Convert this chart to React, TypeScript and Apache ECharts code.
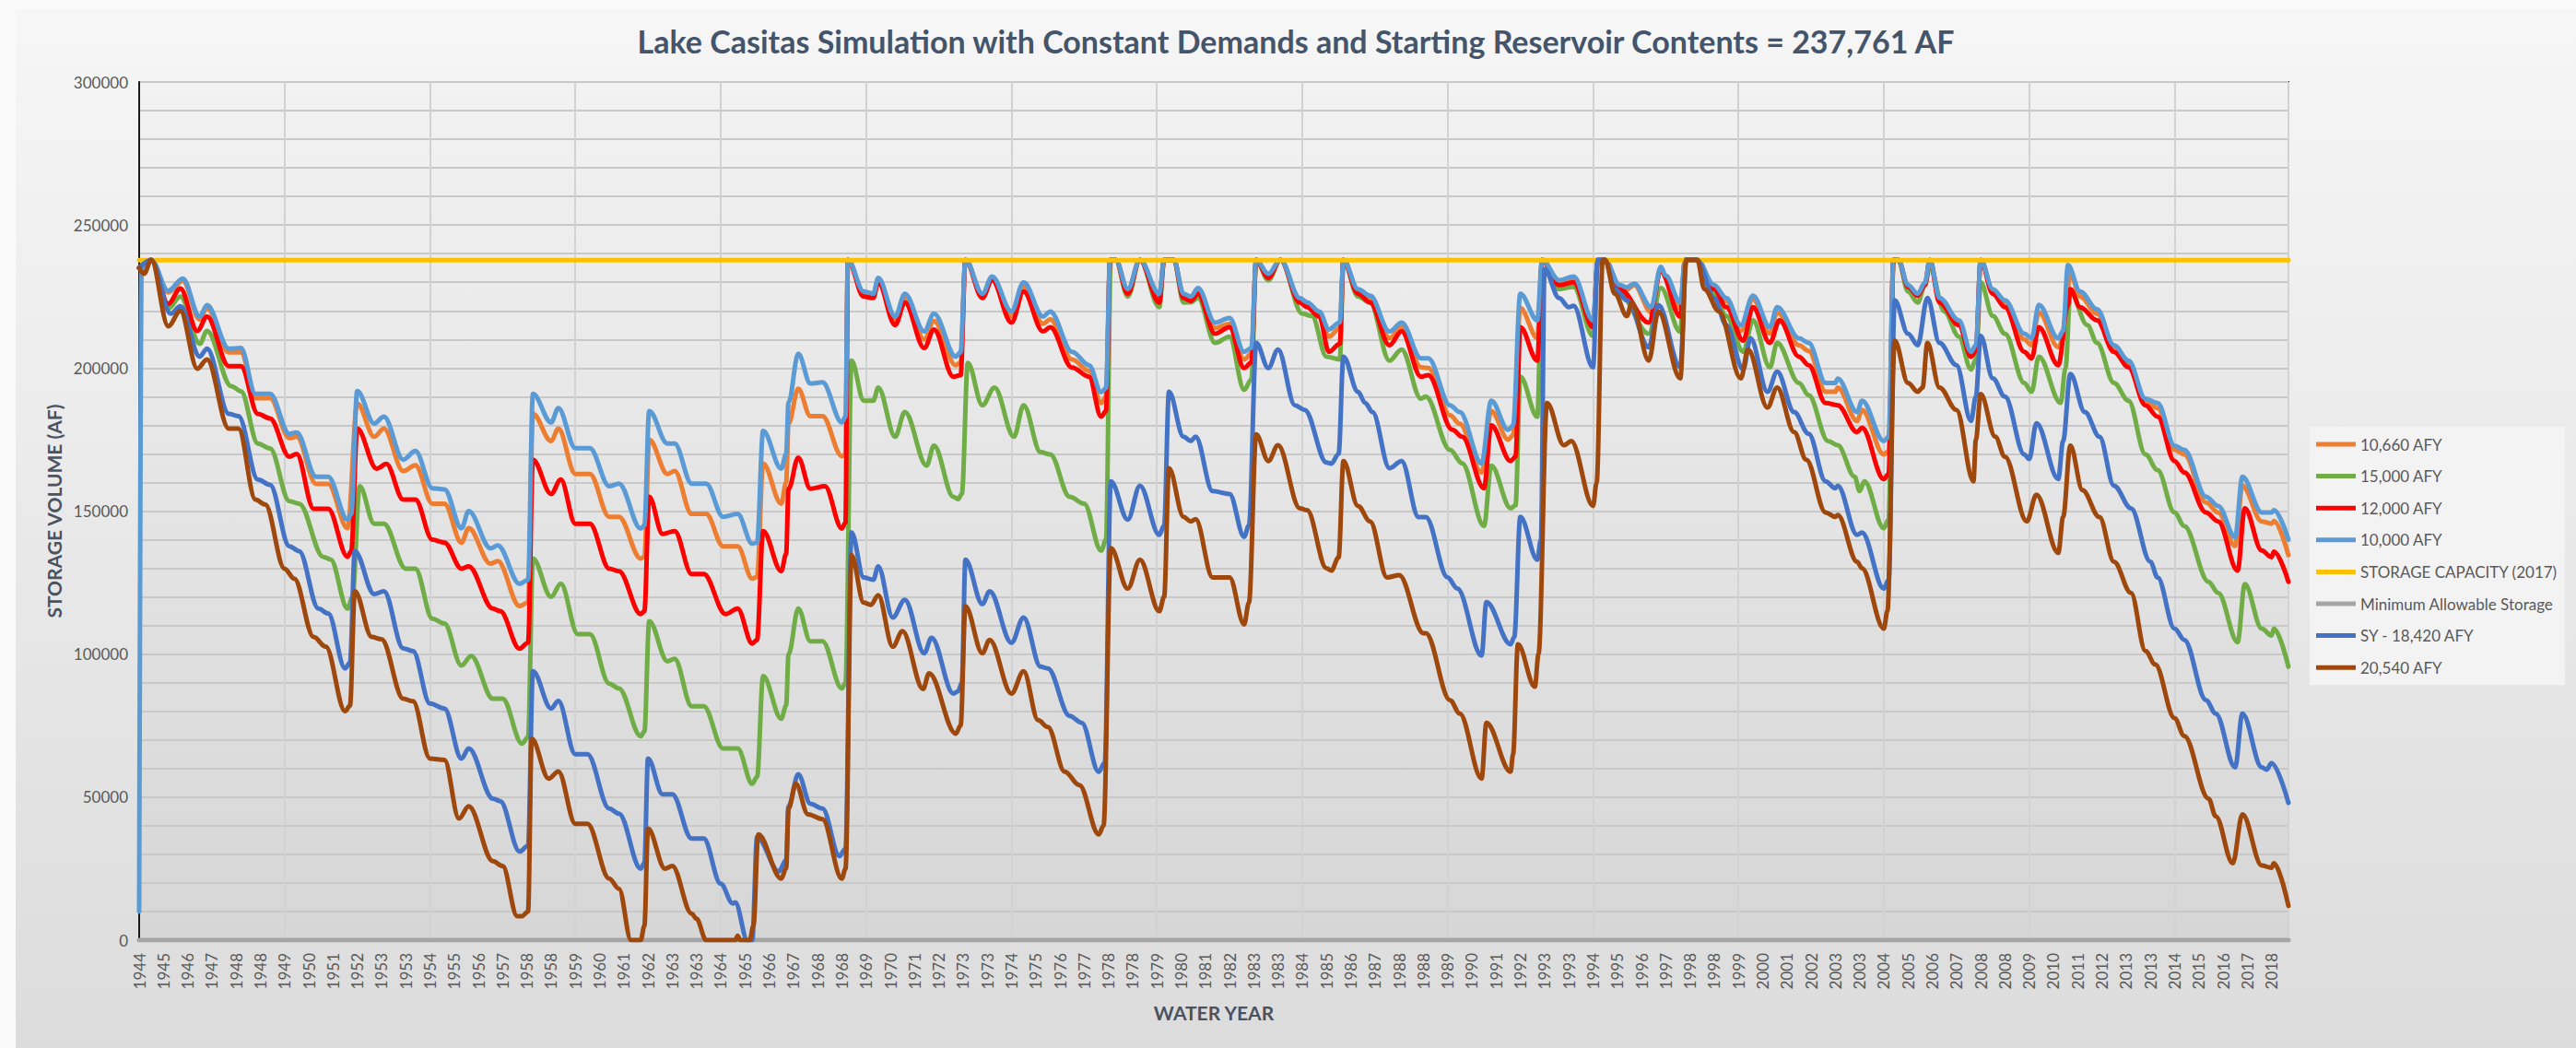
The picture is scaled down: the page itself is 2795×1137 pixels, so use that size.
import { useEffect, useRef } from "react";
import * as echarts from "echarts";

// Month index 0 = Oct 1944 (start of water year 1945); last index 887 = Sep 2018.
const TITLE = "Lake Casitas Simulation with Constant Demands and Starting Reservoir Contents = 237,761 AF";
const lastMonth = 887;
const storageCapacity = 237761;
const minimumAllowableStorage = 0;

// Excel category labels, one every 10 months
const xTickLabels = [
  "1944","1945","1946","1947","1948","1948","1949","1950","1951","1952",
  "1953","1953","1954","1955","1956","1957","1958","1958","1959","1960",
  "1961","1962","1963","1963","1964","1965","1966","1967","1968","1968",
  "1969","1970","1971","1972","1973","1973","1974","1975","1976","1977",
  "1978","1978","1979","1980","1981","1982","1983","1983","1984","1985",
  "1986","1987","1988","1988","1989","1990","1991","1992","1993","1993",
  "1994","1995","1996","1997","1998","1998","1999","2000","2001","2002",
  "2003","2003","2004","2005","2006","2007","2008","2008","2009","2010",
  "2011","2012","2013","2013","2014","2015","2016","2017","2018",
];

// [month index, storage in thousand AF]
const afy10660: [number, number][] = [[0,235],[5,237.8],[12,226.5],[18,230.5],[25,217],[28,221],[37,205.5],[42,205.5],[48,189.5],[54,189.5],[62,175.5],[65,176],[73,159.5],[78,159.5],[86,144],[90,187.6],[97,176],[101,178.8],[109,164],[114,166],[121,152.6],[126,152.6],[133,139],[136,144],[145,131.6],[148,132.5],[157,116.8],[160.5,118],[162.5,184],[170,174.5],[173,178.8],[180,163],[186,163],[194,148],[198,148],[207,133.4],[208.5,134],[210.5,175],[218,163],[221,164],[228,149],[234,149],[241,137.7],[247,137.7],[253,126.4],[255,127],[257.5,166.6],[265,152.6],[267,160],[268,180.6],[272,192.8],[277,183.2],[282,183.2],[290,169.2],[291.5,170],[292.5,237.8],[299,226],[303,225.5],[305,231],[312,216.5],[316,224.5],[324,210],[328,216.5],[337,201],[339,202],[341,237.8],[348,225.3],[352,231.5],[360,218],[365,228.5],[373,215.5],[376,217],[385,203],[392,199],[397,187.8],[399,190],[400.7,237.8],[403,237.8],[408,227],[413,237.8],[421,224.5],[423,237.8],[427,237.8],[431,225.3],[434,224.5],[437,227],[444,214],[450,215.5],[456,203],[459,205],[461,237.8],[466,232.3],[471,237.8],[479,223.7],[482,222],[487,219],[491,211],[495.5,214],[497,237.8],[503,227],[508,224],[516,210.5],[521,214.3],[529,200.3],[532,200],[541,183.5],[545,180.5],[554,163.5],[558,185],[565,175],[567,176.5],[570,221],[577,210.5],[579,237.8],[586,230],[592,231.5],[600,215.5],[602,237.8],[605,237.8],[611,228.5],[614,227.5],[617,229],[624,219.5],[628,234.8],[630,231.5],[636,221],[638,237.8],[643,237.8],[650,228.5],[655,223.5],[661,213],[666,224],[673,212],[676,219.5],[685,208],[689,206],[696,191.7],[700,191.7],[701,193.2],[709,181.5],[711,185.4],[720,169.8],[722,171],[724,237.8],[726,237.8],[730,228.5],[734,225.3],[737,229.5],[739,237.8],[743,223.7],[751,215.5],[756,204],[758,206.5],[760,237.8],[765,227],[770,222.5],[778,210],[781,208],[784,219.5],[792,207.3],[794,210],[797,233],[801,225],[808,219],[815,206.5],[821,201.8],[828,188.6],[833,186],[840,171.4],[844,169.8],[853,153],[858,149.5],[865,137.8],[868,158.9],[876,146.4],[880,145.6],[881,146.5],[887,134.6]];

const afy15000: [number, number][] = [[0,235],[5,237.8],[12,220.8],[17,225],[25,208.5],[28,213],[38,193.7],[42,191.9],[49,173.6],[54,171.9],[62,153.5],[66,152.6],[76,134],[79,133.1],[86,115.9],[88,120],[91,158.7],[97,145.6],[101,145.6],[110,129.9],[114,129.9],[121,112.4],[126,110.7],[133,96],[137,99.3],[146,84.4],[150,84.4],[158,68.7],[160.5,71],[162.5,133.4],[170,120],[174,124.6],[181,107],[186,107],[194,89.7],[198,88],[207,71.3],[208.5,73],[210.5,111.5],[218,97.5],[221,98.4],[228,81.8],[233,81.8],[241,67],[247,67],[253,54.7],[255,57],[257.5,92.3],[265,77.4],[267,82],[268,100],[272,115.9],[277,104.5],[282,104.5],[290,88],[291.5,90],[294,202.6],[299,188.6],[303,188.6],[305,193.2],[312,176],[316,184.6],[325,165.9],[328,172.9],[336,155],[338,154.2],[339.5,156],[342,201.8],[348,187],[353,193.2],[361,176],[365,187],[372,170.6],[376,169.8],[384,155],[390,152.6],[397,136.2],[399,140],[401,237.8],[403,237.8],[408,225],[413,237.8],[421,221.3],[423,237.8],[427,237.8],[431,222.9],[434,223],[437,224.5],[444,208.8],[450,211],[456,192.4],[459,196],[461,237.8],[466,230.7],[471,237.8],[480,219],[484,218.2],[490,204],[495.5,203],[497,237.8],[503,225],[508,222.9],[516,202.6],[521,206.5],[529,189.3],[531,190],[541,171.4],[546,166.7],[555,144.8],[558,165.9],[566,151],[568,152],[570,197],[577,183],[579,237.8],[586,227.6],[592,228.4],[600,211.2],[602,237.8],[605,237.8],[611,226],[623,212],[628,228],[636,212.7],[638,237.8],[643,237.8],[650,226],[655,218.2],[662,205.7],[666,216.7],[673,200.3],[676,208.8],[685,194.8],[689,190.5],[697,174.5],[701,173],[708,162],[710,157],[712,160.4],[720,144],[722,147],[724,237.8],[726,237.8],[730,226.8],[734,222.9],[737,229],[739,235.4],[745,219.8],[751,211],[756,199.5],[758,203],[760,230],[765,218.2],[770,212],[778,194.8],[781,191.7],[784,204],[793,187.8],[795,200],[797,226.8],[804,215],[808,208.8],[815,194.8],[821,188.6],[828,169.8],[833,164.3],[840,149.5],[844,144.8],[854,125.3],[858,121.4],[866,104.2],[869,124.5],[876,108.9],[880,106.5],[881,108.9],[887,95.6]];

const afy12000: [number, number][] = [[0,235],[5,237.8],[12,222.5],[17,227.8],[24,213],[28,218],[37,200.7],[42,200.7],[49,184],[54,182.4],[62,169],[65,170],[72,150.8],[78,150.8],[86,134],[87.5,136],[90,178.8],[98,164.8],[102,166.5],[109,154],[114,154],[121,140],[126,139],[133,129.9],[136,130.7],[146,115.9],[149,115],[157,101.9],[160.5,104],[162.5,168],[170,156],[174,161],[180,145.6],[186,145.6],[194,129.9],[198,129],[207,114],[208.5,115],[210.5,155],[216,142],[221,143],[228,128],[233,128],[242,114],[247,115.9],[253,103.7],[255,105],[257.5,143],[265,129],[267,135],[268,157.8],[272,168.7],[277,157.8],[283,158.7],[290,143.9],[291.5,146],[292.5,237.8],[299,225],[303,224.5],[305,230],[312,215],[316,222.9],[324,207],[328,213.5],[336,197],[339,197.5],[341,237.8],[348,224.5],[352,230.7],[360,215.9],[365,226.8],[373,212.8],[376,214.3],[385,200.2],[392,197],[397,183],[399,185],[400.7,237.8],[403,237.8],[408,226],[413,237.8],[421,222.9],[423,237.8],[427,237.8],[431,224.5],[434,223.5],[437,226],[444,212],[450,214.3],[456,200],[459,202],[461,237.8],[466,231.5],[471,237.8],[479,222.9],[482,221.3],[487,218],[491,205.7],[495.5,208.5],[497,237.8],[503,226],[508,222.9],[516,208],[521,212.8],[529,197],[532,197.5],[542,178.4],[546,176],[555,158],[558,180],[566,167.5],[568,169],[570,214.3],[577,202.6],[579,237.8],[586,229],[592,230],[600,214.3],[602,237.8],[605,237.8],[611,227.6],[623,215.9],[628,233.8],[636,218],[638,237.8],[643,237.8],[650,227.6],[655,221.3],[662,209.6],[666,221.3],[673,208.8],[677,216.7],[685,204],[689,201],[696,187.8],[701,187],[709,177.6],[711,179.2],[720,161.2],[722,163],[724,237.8],[726,237.8],[730,228.4],[734,225.3],[737,229],[739,237.8],[743,222.9],[751,215],[756,204],[758,206],[760,237.8],[765,226],[770,221.3],[778,205.7],[781,203.4],[784,214.3],[792,201],[796,222],[797,227.6],[801,221.3],[808,216.7],[815,205.7],[821,200.3],[828,187],[833,183],[840,167.5],[844,163.5],[853,149.5],[858,146.4],[866,129.2],[869,151],[876,136.2],[880,133.9],[881,135.8],[887,125.3]];

const afy10000: [number, number][] = [[0,10],[1,235],[5,237.8],[12,227],[18,231.3],[25,218],[28,222],[37,206.8],[42,207],[48,191],[54,191],[62,177],[65,177.5],[73,162],[78,162],[86,147],[87.5,149],[90,192],[97,180.6],[101,183],[109,168],[114,171],[121,158],[126,157.6],[133,144],[136,150],[145,137],[148,138],[157,124.6],[160.5,126],[162.5,191],[170,181],[173,186],[180,172],[186,172],[194,158.7],[198,159.6],[207,143.9],[208.5,145],[210.5,185],[218,173.6],[221,173.6],[228,159.6],[234,159.6],[241,148],[247,149],[253,138.6],[255,139],[257.5,178],[265,164.8],[267,170],[268,188],[272,205],[277,194.6],[282,195],[290,181],[291.5,183],[292.5,237.8],[299,226.8],[303,226],[305,231.5],[312,218],[316,226],[324,212.8],[328,219],[337,204],[339,205.5],[341,237.8],[348,226],[352,232],[360,219.8],[365,230],[373,218],[376,219.8],[385,205.7],[392,201],[397,191.6],[399,193],[400.7,237.8],[403,237.8],[408,227.6],[413,237.8],[421,226],[423,237.8],[427,237.8],[431,226],[434,225],[437,228],[444,215.9],[450,217.5],[456,205.7],[459,207],[461,237.8],[466,233],[471,237.8],[479,224.5],[482,223],[487,219.8],[491,213.5],[495.5,216],[497,237.8],[503,227.6],[508,225.3],[516,212.8],[521,215.9],[529,203.4],[532,203.4],[541,187],[545,184.6],[554,166.7],[558,188.6],[565,178.4],[567,180],[570,226],[577,216.7],[579,237.8],[586,230.7],[592,232],[600,216.7],[602,237.8],[605,237.8],[611,229],[614,228.2],[617,229.5],[624,221.3],[628,235.4],[630,232.3],[636,222.9],[638,237.8],[643,237.8],[650,229],[655,224.5],[661,215],[666,225.3],[673,214.3],[676,221.3],[685,210.4],[689,208.8],[696,194.8],[700,194.8],[701,196.3],[709,184.6],[711,188.6],[720,174.5],[722,176],[724,237.8],[726,237.8],[730,229],[734,226],[737,229.9],[739,237.8],[743,224.5],[751,216.7],[756,205.7],[758,208],[760,237.8],[765,227.6],[770,223.7],[778,212],[781,210.4],[784,222.1],[792,210.4],[794,213],[796,236],[801,226.8],[808,220.6],[815,208],[821,202.6],[828,189.3],[833,187.8],[840,172.9],[844,171.4],[853,155],[858,151.8],[865,140.9],[868,162],[876,149.5],[880,149.5],[881,150.3],[887,140]];

const afy18420: [number, number][] = [[0,235],[5,237.8],[13,219],[17,221.6],[25,204],[28,206.8],[37,184],[41,183.2],[49,161],[54,159.2],[62,137.7],[66,136],[74,115.9],[78,114.2],[85,95],[87,97],[89,136],[97,121],[101,122],[109,102],[113,101.1],[120,82.7],[126,81],[133,63.5],[136,67],[146,49.5],[149,48.6],[157,31],[160.5,33],[162.5,94],[170,81],[173,83.6],[180,65],[185,65],[194,46],[198,44.2],[207,25],[208.5,27],[210,63.5],[216,51],[220,51],[228,35.5],[233,35.5],[240,19.7],[245,12.8],[246,13.2],[251,0],[253,0],[255,36],[264,24],[267,28],[268,46.8],[272,58],[277,47.7],[282,46],[289,29.4],[291.5,32],[294,142.5],[299,126.8],[303,126],[305,130.7],[311,112.8],[316,119],[324,100.3],[327,105.7],[336,86.2],[338,87],[339.5,90],[341,133],[348,117.5],[351,122],[360,104],[365,112.8],[372,95.6],[375,95],[384,78.4],[389,76],[396,58.9],[398.5,62],[401,160.4],[408,147],[413,158.9],[421,141.7],[423,145],[425,191.7],[431,176],[434,174.5],[436,176],[443,157],[450,156],[456,141],[458,145],[461,208.8],[466,200],[470,206.5],[477,187],[481,185.4],[490,167],[492,166.6],[495,170],[497,204],[503,191.7],[506,187.8],[509,184.6],[516,165],[521,167.5],[528,147.9],[531,147.9],[540,126.8],[544,122.9],[554,99.5],[556,118.2],[566,103.4],[567.5,106],[570,148],[577,133],[578.5,140],[580,234.6],[586,224.5],[590,221.3],[592,221.8],[600,200.3],[602,237.8],[605,237.8],[609,227.6],[614,223.7],[623,207.3],[627,222],[636,200.3],[638.5,237.8],[643,237.8],[650,224.5],[655,215],[662,199.5],[665,210.4],[672,191.7],[676,198.7],[683,184.6],[689,177],[696,160.4],[700,158],[701,158.9],[709,141.7],[711,142.5],[720,122.9],[722,126],[724.5,223.7],[730,212],[734,208],[738,224.5],[743,208.8],[750,201],[756,181.5],[758,190],[760,211.2],[765,196.4],[770,190],[778,169.8],[780,168.2],[783,180.7],[792,161.2],[794,174.5],[797,197.9],[803,184.6],[809,176],[815,158.9],[822,151],[830,132.3],[833,126.8],[840,108.9],[844,105],[853,83.9],[857,79.2],[865,60.4],[868,79.2],[876,60.4],[878,59.6],[880,61.9],[887,48]];

const afy20540: [number, number][] = [[0,235],[2,233],[5,237.8],[12,214.6],[17,220],[24,199.8],[28,203],[37,178.8],[41,178.8],[48,154],[52,152.3],[60,129.9],[64,126.4],[72,106],[77,102.6],[85,80],[87,82],[89,122],[96,106],[100,105.2],[109,84.4],[113,83.5],[120,63.5],[126,63],[132,42.5],[136,46.8],[146,27.6],[150,25.9],[156,8.4],[158,8.4],[160.5,10],[162,70.4],[169,56.5],[173,59],[180,40.7],[185,40.7],[194,21.5],[198,18],[203,0],[207,0],[208.5,5],[210,39],[217,25],[220,25.9],[228,9.3],[230,7.5],[234,0],[246,0],[247,1.5],[248,0],[252,0],[253.5,5],[255.5,37],[265,21.5],[267,25],[268,46],[271,54.7],[276,44],[282,42.3],[290,21.5],[291.5,25],[294,134.6],[299,118],[302,117.2],[305,120.6],[311,102.6],[315,108],[323.5,87.8],[326,93.3],[337,72.2],[339,75],[341,116.7],[348,100.3],[351,105],[360,86.2],[365,94],[371,76.9],[375,74.5],[382,58.9],[388,54.2],[396,37],[398,40],[401,137],[408,122.9],[413,133],[421,115],[423,120],[425,165],[431,148],[434,146.4],[436,147.2],[443,126.8],[450,126.8],[456,110.4],[458,118],[461,176.8],[466,167.5],[470,173],[479,151],[482,150.3],[490,130],[492,129.2],[495,133.8],[497,167.5],[503,151.8],[508,146.4],[515,126.8],[520,127.6],[530,107.3],[531,107.3],[541,83.9],[545,79.2],[554,56.5],[556,76],[566,58.9],[567,65],[569,103.4],[576,88.6],[577.5,100],[581,187.8],[588,173],[591,174.5],[600,151.8],[601.5,160],[604,237.8],[605,237.8],[609,226],[614,218.2],[616,222.9],[623,202.6],[627,219.8],[636,196.4],[638.5,237.8],[643,237.8],[646,227.6],[652,219.8],[661,196.4],[664,206.5],[672,186.2],[676,193.2],[683,177.6],[688,168],[696,149.5],[700,148],[701,148.6],[709,132.3],[711,130],[720,108.9],[721.5,115],[724.5,209.6],[730,194.8],[734,191.7],[736,193.2],[738,208.8],[743,193.2],[750,185.4],[757,160.4],[758,175],[760,190.9],[766,176],[770,169],[779,146.4],[783,155.7],[792,135.4],[794,147.9],[797,172.9],[802,157.3],[809,147.9],[815,132.3],[822,121.4],[828,101.1],[832,96.4],[840,77.6],[844,71.4],[854,49.5],[857,43.3],[864,26.9],[868,44],[876,26.1],[880,25.3],[881,26.9],[887,12]];

const seriesNames = [
  "10,660 AFY",
  "15,000 AFY",
  "12,000 AFY",
  "10,000 AFY",
  "STORAGE CAPACITY (2017)",
  "Minimum Allowable Storage",
  "SY - 18,420 AFY",
  "20,540 AFY",
];
const seriesColors = ["#ED7D31", "#70AD47", "#FF0000", "#5B9BD5", "#FFC000", "#A5A5A5", "#4472C4", "#9E480E"];

const FONT = "Lato, 'Open Sans', sans-serif";

const toAF = (pts: [number, number][]) => pts.map(([m, v]) => [m, v * 1000]);

export default function App() {
  const ref = useRef<HTMLDivElement>(null);

  useEffect(() => {
    if (!ref.current) return;
    const chart = echarts.init(ref.current, null, { renderer: "svg" });

    const seriesData = [
      toAF(afy10660),
      toAF(afy15000),
      toAF(afy12000),
      toAF(afy10000),
      [[0, storageCapacity], [lastMonth, storageCapacity]],
      [[0, minimumAllowableStorage], [lastMonth, minimumAllowableStorage]],
      toAF(afy18420),
      toAF(afy20540),
    ];

    chart.setOption({
      animation: false,
      textStyle: { fontFamily: FONT },
      title: {
        text: TITLE,
        left: "center",
        top: 12,
        textStyle: { fontFamily: FONT, fontWeight: "bold", fontSize: 34, color: "#44546A" },
      },
      legend: {
        orient: "vertical",
        left: 2489,
        top: 453,
        icon: "rect",
        itemWidth: 43,
        itemHeight: 5,
        itemGap: 14.6,
        padding: [9, 8, 9, 7],
        backgroundColor: "#F3F3F3",
        textStyle: { fontFamily: FONT, fontSize: 17, color: "#595959", lineHeight: 20 },
        data: seriesNames,
      },
      grid: {
        left: 134,
        top: 79,
        right: 312,
        bottom: 117,
        show: true,
        borderColor: "#1F1F1F",
        borderWidth: 2,
        backgroundColor: new echarts.graphic.LinearGradient(0, 0, 0, 1, [
          { offset: 0, color: "#F2F2F2" },
          { offset: 1, color: "#D6D6D6" },
        ]),
      },
      xAxis: [
        {
          type: "value",
          min: 0,
          max: lastMonth,
          interval: 10,
          axisLine: { show: false },
          axisTick: { show: false },
          splitLine: { show: false },
          axisLabel: {
            rotate: 90,
            fontSize: 17,
            color: "#595959",
            margin: 14,
            showMaxLabel: false,
            fontFamily: FONT,
            formatter: (v: number) => {
              const k = Math.round(v / 10);
              return Math.abs(v - k * 10) < 0.01 && xTickLabels[k] ? xTickLabels[k] : "";
            },
          },
          name: "WATER YEAR",
          nameLocation: "middle",
          nameGap: 68,
          nameTextStyle: { fontFamily: FONT, fontWeight: "bold", fontSize: 21, color: "#4A5360" },
        },
        {
          type: "value",
          min: 0,
          max: lastMonth,
          interval: 60,
          position: "bottom",
          axisLine: { show: false },
          axisTick: { show: false },
          axisLabel: { show: false },
          splitLine: { show: true, lineStyle: { color: "#D2D2D2", width: 2 } },
        },
      ],
      yAxis: {
        type: "value",
        min: 0,
        max: 300000,
        interval: 10000,
        axisLine: { show: true, lineStyle: { color: "#1A1A1A", width: 2 } },
        axisTick: { show: false },
        axisLabel: {
          fontSize: 17,
          color: "#595959",
          margin: 12,
          fontFamily: FONT,
          formatter: (v: number) => (Math.round(v) % 50000 === 0 ? String(Math.round(v)) : ""),
        },
        splitLine: { show: true, lineStyle: { color: "#C8C8C8", width: 2 } },
        name: "STORAGE VOLUME (AF)",
        nameLocation: "middle",
        nameGap: 80,
        nameTextStyle: { fontFamily: FONT, fontWeight: "bold", fontSize: 21, color: "#4A5360" },
      },
      series: seriesNames.map((name, i) => ({
        name,
        type: "line",
        xAxisIndex: 0,
        showSymbol: false,
        symbol: "none",
        smooth: 0.35,
        smoothMonotone: "x",
        data: seriesData[i],
        color: seriesColors[i],
        lineStyle: {
          color: seriesColors[i],
          width: 5,
          join: "round",
          cap: "round",
        },
        emphasis: { disabled: true },
      })),
    });

    return () => chart.dispose();
  }, []);

  return (
    <div style={{ position: "fixed", left: 0, top: 0, width: 2795, height: 1137, background: "#FAFAFA" }}>
      <div
        ref={ref}
        style={{
          position: "absolute",
          left: 17,
          top: 10,
          width: 2778,
          height: 1127,
          background: "linear-gradient(to bottom, #F6F6F6, #DCDCDC)",
        }}
      />
    </div>
  );
}
